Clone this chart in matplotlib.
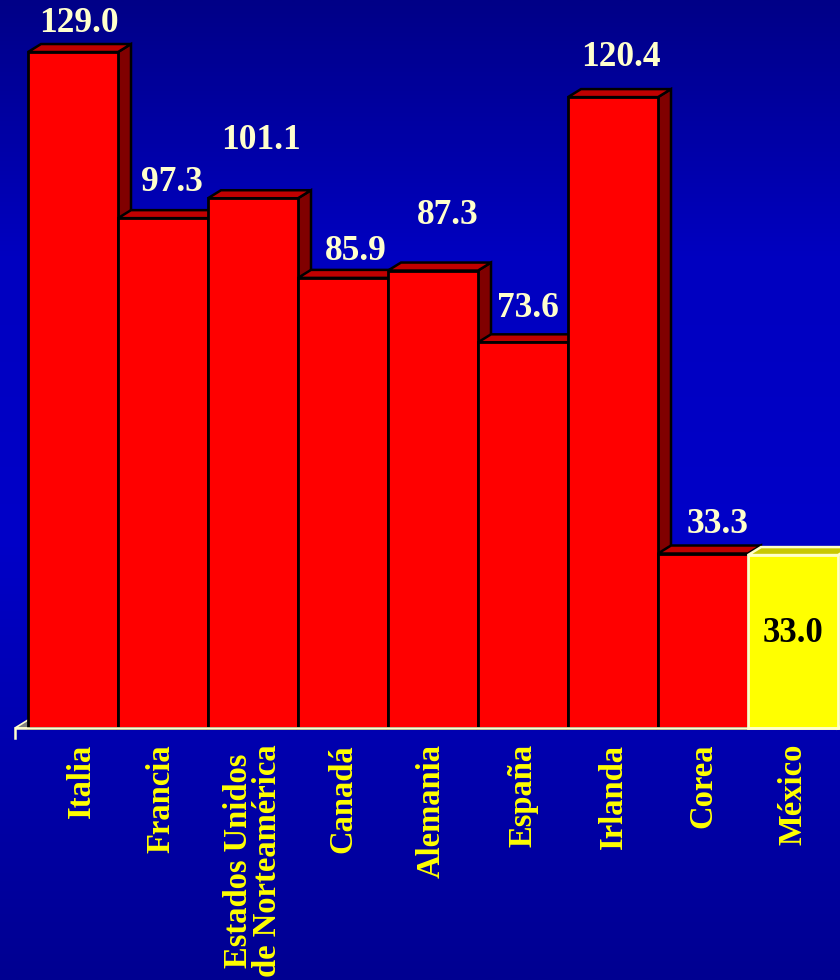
import numpy as np
import matplotlib
matplotlib.use("Agg")
import matplotlib.pyplot as plt
from matplotlib.patches import Polygon
from matplotlib.colors import LinearSegmentedColormap

# ---- data ----
categories = ["Italia", "Francia", "Estados Unidos\nde Norteamérica", "Canadá",
              "Alemania", "España", "Irlanda", "Corea", "México"]
values = [129.0, 97.3, 101.1, 85.9, 87.3, 73.6, 120.4, 33.3, 33.0]
highlight = "México"

# ---- layout (pixels) ----
W, H, DPI = 840, 980, 100
bar_px = 90.0            # width of one bar in pixels
unit_px = 5.24           # pixels per value unit
left_px = 28.0           # left edge of first bar
base_px = 252.0          # baseline height from the bottom of the figure
depth_px = (13.0, 8.0)   # 3D offset of the back faces
# value label offsets (dx, lift above the front top edge), pixels
label_off = [(6, 20), (9, 27), (8, 49), (13, 18), (15, 47), (5, 25), (8, 31), (15, 21)]
# horizontal nudge of the category labels, pixels
cat_dx = [8, -2, 0, 0, -2, 0, 0, 0, 0]

fig = plt.figure(figsize=(W / DPI, H / DPI), dpi=DPI)
ax = fig.add_axes([0, 0, 1, 1])
x_lo = -0.5 - left_px / bar_px
x_hi = x_lo + W / bar_px
y_lo = -base_px / unit_px
y_hi = y_lo + H / unit_px
ax.set_xlim(x_lo, x_hi)
ax.set_ylim(y_lo, y_hi)
ax.axis("off")

# background: vertical blue gradient
stops = [(0.0, (0, 0, 145 / 255)), (0.45, (0, 0, 200 / 255)),
         (0.74, (0, 0, 192 / 255)), (1.0, (0, 0, 135 / 255))]
cmap = LinearSegmentedColormap.from_list("bg", stops)
grad = np.linspace(0, 1, 512).reshape(-1, 1)
ax.imshow(grad, cmap=cmap, extent=(x_lo, x_hi, y_hi, y_lo), aspect="auto",
          origin="upper", zorder=0, interpolation="bilinear")
ax.set_ylim(y_lo, y_hi)

dx = depth_px[0] / bar_px
dy = depth_px[1] / unit_px
n = len(values)

# floor of the 3D chart
floor = Polygon([(-0.5 - dx, 0), (-0.5, dy), (n - 0.5 + dx, dy), (n - 0.5, 0)],
                closed=True, facecolor="#808080", edgecolor="#FFFFCC", lw=1.2, zorder=1)
ax.add_patch(floor)

serif = ["Liberation Serif", "DejaVu Serif"]

for i, (cat, v) in enumerate(zip(categories, values)):
    hl = cat == highlight
    front_c = "#FFFF00" if hl else "#FF0000"
    top_c = "#C8C800" if hl else "#C00000"
    side_c = "#808000" if hl else "#800000"
    edge_c = "#FFFFC8" if hl else "#000000"
    z = 2 + i * 0.1
    x0, x1 = i - 0.5, i + 0.5
    side = Polygon([(x1, 0), (x1, v), (x1 + dx, v + dy), (x1 + dx, dy)], closed=True,
                   facecolor=side_c, edgecolor=edge_c, lw=1.8, zorder=z)
    top = Polygon([(x0, v), (x0 + dx, v + dy), (x1 + dx, v + dy), (x1, v)], closed=True,
                  facecolor=top_c, edgecolor=edge_c, lw=1.8, zorder=z + 0.01)
    ax.add_patch(side)
    ax.add_patch(top)
    ax.bar([i], [v], width=1.0, color=front_c, edgecolor=edge_c, lw=2.0,
           zorder=z + 0.02)

    if hl:
        ax.annotate(f"{v:.1f}", xy=(i, v / 2), xytext=(0, 8), textcoords="offset pixels",
                    ha="center", va="center", fontsize=25, fontweight="bold",
                    family=serif, color="black", zorder=10)
    else:
        ox, oy = label_off[i]
        ax.annotate(f"{v:.1f}", xy=(i, v), xytext=(ox, oy), textcoords="offset pixels",
                    ha="center", va="baseline", fontsize=25.5, fontweight="bold",
                    family=serif, color="#FFFFCC", zorder=10)

    ax.annotate(cat, xy=(i, 0), xytext=(cat_dx[i], -16), textcoords="offset pixels",
                rotation=90, ha="center", va="top", multialignment="center",
                fontsize=23.5, fontweight="bold", family=serif, color="#FFFF00",
                linespacing=0.95, zorder=10)

# base line and left tick
ax.plot([-0.5 - dx, x_hi], [0, 0], color="#FFFFCC", lw=1.8, zorder=9,
        solid_capstyle="butt")
ax.plot([-0.5 - dx, -0.5 - dx], [0, -10 / unit_px], color="#FFFFCC", lw=1.8, zorder=9)

fig.savefig("out.png", dpi=DPI)
